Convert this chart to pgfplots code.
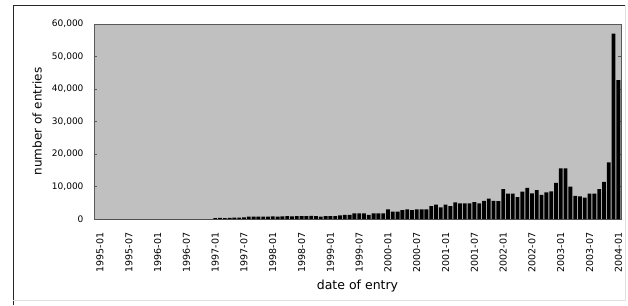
\documentclass[border=0pt]{standalone}
\usepackage{pgfplots}
\pgfplotsset{compat=1.18}
\usepackage{pgfplotstable}
\usepackage{fontspec}
\setmainfont{DejaVu Sans}
\definecolor{bg}{RGB}{192,192,192}
\pgfplotstableread{
i v
0 0
1 0
2 0
3 0
4 0
5 0
6 0
7 0
8 0
9 0
10 0
11 0
12 0
13 0
14 0
15 0
16 0
17 0
18 0
19 0
20 0
21 0
22 0
23 0
24 300
25 350
26 300
27 350
28 400
29 450
30 500
31 700
32 750
33 700
34 750
35 750
36 800
37 750
38 800
39 850
40 800
41 850
42 900
43 900
44 950
45 900
46 700
47 900
48 900
49 900
50 1100
51 1300
52 1300
53 1700
54 1750
55 1750
56 1300
57 1700
58 1750
59 1750
60 3000
61 2300
62 2300
63 2700
64 3000
65 2700
66 3000
67 3000
68 3000
69 4000
70 4400
71 3600
72 4400
73 4000
74 5100
75 4800
76 4800
77 4800
78 5200
79 4800
80 5600
81 6300
82 5600
83 5500
84 9200
85 7800
86 7800
87 6700
88 8400
89 9600
90 7900
91 8900
92 7400
93 8200
94 8500
95 11100
96 15600
97 15600
98 10000
99 7100
100 7000
101 6600
102 7800
103 7800
104 9200
105 11400
106 17400
107 57000
108 42700
}\entries
\begin{document}
\begin{tikzpicture}
\useasboundingbox (0pt,0pt) rectangle (628pt,305pt);
\fill[white] (0pt,0pt) rectangle (628pt,305pt);
\draw[black!85,line width=0.9pt] (13pt,0pt) -- (13pt,300pt) -- (625pt,300pt);
\draw[black!12,line width=0.6pt] (625pt,300pt) -- (625pt,5pt) -- (13pt,5pt);
\begin{axis}[
  at={(94pt,86pt)}, anchor=south west,
  scale only axis, width=527pt, height=195pt,
  xmin=-1.25, xmax=108.55, ymin=0, ymax=60000,
  axis background/.style={fill=bg},
  axis line style={draw=black!65, line width=0.6pt},
  ytick={0,10000,...,60000},
  scaled y ticks=false,
  /pgf/number format/.cd, 1000 sep={,}, assume math mode=true,
  /pgfplots/.cd,
  yticklabel style={font=\fontsize{9}{10}\selectfont, xshift=-7pt},
  y tick style={draw=black!65},
  ytick align=inside, major tick length=3pt,
  xtick={0,6,...,108},
  xticklabels={1995-01,1995-07,1996-01,1996-07,1997-01,1997-07,1998-01,1998-07,1999-01,1999-07,2000-01,2000-07,2001-01,2001-07,2002-01,2002-07,2003-01,2003-07,2004-01},
  xticklabel style={rotate=90, anchor=east, font=\fontsize{9.5}{10}\selectfont, yshift=0pt, xshift=-7pt},
  x tick style={draw=none},
  xlabel={date of entry},
  ylabel={number of entries},
  xlabel style={at={(axis description cs:0.5,-0.345)}, anchor=center, font=\fontsize{12.5}{14}\selectfont},
  ylabel style={at={(axis description cs:-0.108,0.5)}, anchor=center, rotate=0, font=\fontsize{12}{14}\selectfont},
  ybar, bar width=0.8,
  clip=true,
]
\addplot[fill=black, draw=none] table[x=i, y=v] {\entries};
\end{axis}
\end{tikzpicture}
\end{document}
